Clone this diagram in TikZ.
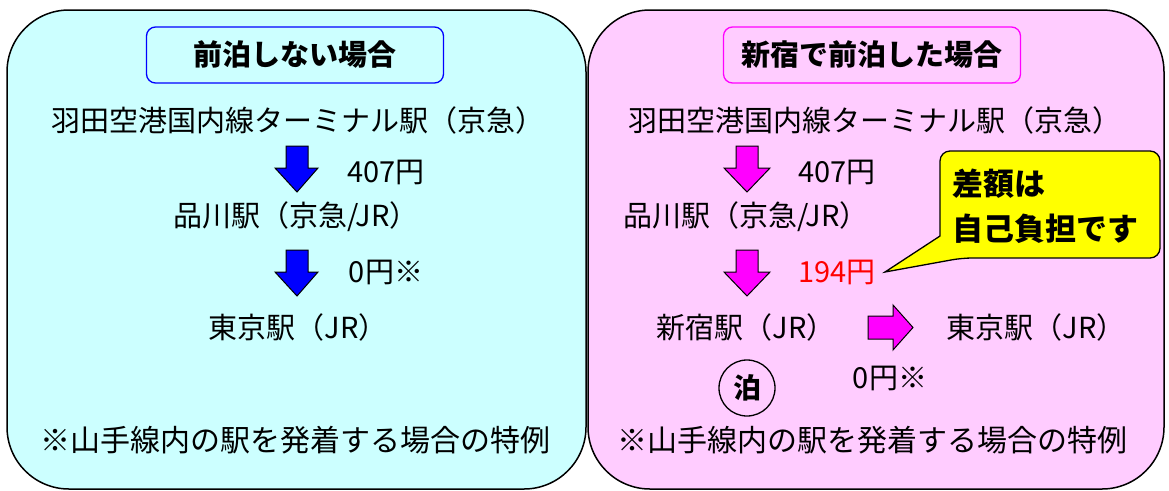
\documentclass[tikz,border=0pt]{standalone}
\usepackage{fontspec}
\setmainfont{Noto Sans CJK JP}
\definecolor{cyanbg}{HTML}{CCFFFF}
\definecolor{pinkbg}{HTML}{FFCCFF}
\definecolor{mag}{HTML}{FF00FF}
\definecolor{blu}{HTML}{0000FF}
\definecolor{yel}{HTML}{FFFF00}
\definecolor{rd}{HTML}{FF0000}
\begin{document}
\begin{tikzpicture}[x=1pt,y=-1pt,
  panel/.style={draw=black,line width=1.5pt,rounded corners=62pt},
  titlebox/.style={draw,line width=1.3pt,rounded corners=9pt,minimum width=297pt,minimum height=56pt,inner sep=0pt,font=\fontsize{29}{32}\selectfont\bfseries},
  lbl/.style={inner sep=0pt,font=\fontsize{29}{32}\selectfont},
  note/.style={inner sep=0pt,font=\fontsize{30}{32}\selectfont},
  blockarrow/.style={draw=black,line width=1pt,line join=miter},
  callout/.style={draw=black,line width=1.3pt,fill=yel}]
\useasboundingbox (0,0) rectangle (1169,490);
% panels
\draw[panel,fill=cyanbg] (7,10) rectangle (586,489);
\draw[panel,fill=pinkbg] (588,10) rectangle (1164,489);
% titles
\node[titlebox,draw=blu] (t1) at (295,55) {前泊しない場合};
\node[titlebox,draw=mag] (t2) at (872,55) {新宿で前泊した場合};
% left column
\node[lbl] (l1) at (298,120) {羽田空港国内線ターミナル駅（京急）};
\node[lbl] (l2) at (296,217) {品川駅（京急/JR）};
\node[lbl] (l3) at (298,327) {東京駅（JR）};
\node[lbl] (lp1) at (386,172) {407円};
\node[lbl] (lp2) at (386,272) {0円※};
\node[note] (ln) at (295,440) {※山手線内の駅を発着する場合の特例};
\draw[blockarrow,fill=blu] (286,146) -- (308,146) -- (308,168) -- (318,168) -- (297,192) -- (275,168) -- (286,168) -- cycle;
\draw[blockarrow,fill=blu] (286,250) -- (308,250) -- (308,272) -- (318,272) -- (297,296) -- (275,272) -- (286,272) -- cycle;
% right column
\node[lbl] (r1) at (875,120) {羽田空港国内線ターミナル駅（京急）};
\node[lbl] (r2) at (746,217) {品川駅（京急/JR）};
\node[lbl] (r3) at (746,327) {新宿駅（JR）};
\node[lbl] (r4) at (1036,327) {東京駅（JR）};
\node[lbl] (rp1) at (837,172) {407円};
\node[lbl,text=rd] (rp2) at (837,272) {194円};
\node[lbl] (rp3) at (890,378) {0円※};
\node[note] (rn) at (872,440) {※山手線内の駅を発着する場合の特例};
\draw[blockarrow,fill=mag] (736,146) -- (758,146) -- (758,168) -- (770,168) -- (747,192) -- (724,168) -- (736,168) -- cycle;
\draw[blockarrow,fill=mag] (736,250) -- (758,250) -- (758,272) -- (770,272) -- (747,296) -- (724,272) -- (736,272) -- cycle;
\draw[blockarrow,fill=mag] (868,316) -- (893,316) -- (893,305) -- (913,327.5) -- (893,350) -- (893,339) -- (868,339) -- cycle;
\node[circle,draw,line width=1.3pt,minimum size=56pt,inner sep=0pt,font=\fontsize{28}{30}\selectfont\bfseries] (haku) at (747,388) {泊};
% callout
\draw[callout] (1050,151) [rounded corners=10pt] -- (1160,151) -- (1160,258) -- (962,258) [sharp corners] -- (885,272) -- (940,236) [rounded corners=10pt] -- (940,151) -- cycle;
\node[inner sep=0pt,anchor=west,align=left,font=\fontsize{31}{45}\selectfont\bfseries] (cal) at (952,206) {差額は\\自己負担です};
\end{tikzpicture}
\end{document}
